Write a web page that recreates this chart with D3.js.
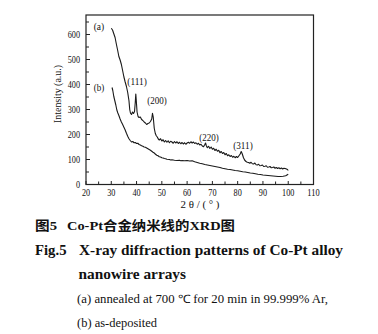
<!DOCTYPE html>
<html><head><meta charset="utf-8">
<script src="https://cdn.jsdelivr.net/npm/d3@7"></script>
<style>
html,body{margin:0;padding:0;background:#fff;}
svg{display:block;}
text{font-family:"Liberation Serif","Times New Roman",serif;fill:#111;}
</style></head>
<body>
<svg id="chart" width="378" height="334"></svg>
<script>
// ---- data ----
const thetaA = [30,30.5,31,31.5,32,32.5,33,33.5,34,34.5,35,35.5,36,36.5,37,37.3,37.6,38,38.4,38.8,39.2,39.5,39.7,39.9,40.2,40.6,41,41.5,42,42.5,43,43.5,44,44.5,45,45.5,46,46.3,46.6,47,47.4,47.8,48.2,48.6,49,49.5,50,50.5,51,51.5,52,52.5,53,53.5,54,54.5,55,55.5,56,56.5,57,57.5,58,58.5,59,59.5,60,60.5,61,61.5,62,62.5,63,63.5,64,64.5,65,65.5,66,66.5,67,67.3,67.6,68,68.5,69,69.5,70,70.5,71,71.5,72,72.5,73,73.5,74,74.5,75,75.5,76,76.5,77,77.5,78,78.5,79,79.5,80,80.5,81,81.4,81.8,82.3,82.8,83.3,83.8,84.3,84.8,85.3,85.8,86.3,86.8,87.3,87.8,88.3,88.8,89.3,89.8,90.3,90.8,91.3,91.8,92.3,92.8,93.3,93.8,94.3,94.8,95.3,95.8,96.3,96.8,97.3,97.8,98.3,98.8,99.3,99.7,100];
const intA   = [625,618,603,588,562,538,512,498,480,455,430,410,392,368,335,300,285,280,290,284,292,330,362,335,290,272,268,270,260,256,250,246,240,244,246,252,262,285,270,225,205,195,190,182,178,183,174,179,170,176,169,175,167,173,170,165,172,166,171,164,169,163,168,162,167,161,166,169,165,171,166,170,164,167,161,165,158,161,154,151,160,166,155,147,153,144,150,141,145,136,141,133,137,127,132,124,128,119,124,115,119,112,116,109,113,107,112,108,115,122,132,123,107,97,92,89,88,85,89,83,82,86,79,78,81,75,76,78,72,73,75,69,70,72,67,68,70,65,68,64,67,63,66,62,65,64,62,60,56];
const thetaB = [30.3,30.6,31,31.4,31.8,32.2,32.6,33,33.5,34,34.5,35,35.5,36,36.5,37,37.5,38,38.5,39,39.5,40,40.5,41,41.5,42,42.5,43,43.5,44,44.5,45,45.5,46,46.5,47,47.5,48,48.5,49,49.5,50,50.5,51,51.5,52,53,53.5,54,55,56,57,57.5,58,59,60,61,62,63,64,65,66,67,68,69,70,71,72,73,74,75,76,77,78,79,80,81,82,83,84,85,86,87,88,89,90,91,92,93,94,95,96,97,98,99,99.5,100];
const intB   = [388,376,352,335,318,298,286,276,262,250,240,229,218,205,193,183,176,170,172,167,168,164,165,160,158,155,153,150,149,146,143,140,137,133,129,126,121,117,115,111,110,107,106,104,103,101,100,98,99,97,96,97,95,96,95,96,94,95,91,88,85,83,80,78,76,74,72,70,68,65,63,61,60,58,56,55,53,51,50,48,46,45,43,41,40,38,37,36,35,34,33,32,32,33,35,38,41];
const xTicks = [20,30,40,50,60,70,80,90,100,110];
const xMinorTicks = [25,35,45,55,65,75,85,95,105];
const yTicks = [0,100,200,300,400,500,600];
const yMinorTicks = [50,150,250,350,450,550,650];
const curveLabels = ["(a)","(b)"];
const curveLabelX = [25.1,25.1];
const curveLabelY = [634,390];
const peakLabels = ["(111)","(200)","(220)","(311)"];
const peakLabelX = [40.2,48.1,68.7,82.1];
const peakLabelY = [414,338,190,158];
const xTitle = "2 θ / ( ° )";
const yTitle = "Intensity (a.u.)";

// ---- layout ----
const SERIF = "'Liberation Serif','Times New Roman',serif";
const L=86, R=313.5, T=15, B=184.5;
const svg = d3.select("#chart");
const x = d3.scaleLinear().domain([20,110]).range([L,R]);
const y = d3.scaleLinear().domain([0,678]).range([B,T]);

// frame
svg.append("rect").attr("x",L).attr("y",T).attr("width",R-L).attr("height",B-T)
  .attr("fill","none").attr("stroke","#222").attr("stroke-width",1.2);

// x ticks (inward)
svg.append("g").selectAll("line").data(xTicks.concat(xMinorTicks)).join("line")
  .attr("x1",d=>x(d)).attr("x2",d=>x(d)).attr("y1",B).attr("y2",d=>B-(xTicks.includes(d)?3.5:3))
  .attr("stroke","#222").attr("stroke-width",1);
svg.append("g").selectAll("text").data(xTicks).join("text")
  .attr("x",d=>x(d)).attr("y",195.5).attr("text-anchor","middle").style("font-family",SERIF)
  .attr("font-size",10).attr("textLength",d=>String(d).length*4.1).attr("lengthAdjust","spacingAndGlyphs")
  .text(d=>d);
// y ticks (inward)
svg.append("g").selectAll("line").data(yTicks.concat(yMinorTicks)).join("line")
  .attr("x1",L).attr("x2",d=>L+(yTicks.includes(d)?4:3)).attr("y1",d=>y(d)).attr("y2",d=>y(d))
  .attr("stroke","#222").attr("stroke-width",1);
svg.append("g").selectAll("text").data(yTicks).join("text")
  .attr("x",80).attr("y",d=>y(d)+3.3).attr("text-anchor","end").style("font-family",SERIF)
  .attr("font-size",10).attr("textLength",d=>String(d).length*4.1).attr("lengthAdjust","spacingAndGlyphs")
  .text(d=>d);

// axis titles
svg.append("text").attr("x",200).attr("y",207.5).attr("text-anchor","middle").style("font-family",SERIF)
  .attr("font-size",10).attr("textLength",39).attr("lengthAdjust","spacingAndGlyphs").text(xTitle);
svg.append("text").attr("transform","translate(60.5,94) rotate(-90)").attr("text-anchor","middle").style("font-family",SERIF)
  .attr("font-size",10).attr("textLength",58).attr("lengthAdjust","spacingAndGlyphs").text(yTitle);

// curves
const line = d3.line().x(d=>x(d[0])).y(d=>y(d[1]));
svg.append("path").datum(d3.zip(thetaA,intA)).attr("d",line)
  .attr("fill","none").attr("stroke","#1a1a1a").attr("stroke-width",1.1).attr("stroke-linejoin","round");
svg.append("path").datum(d3.zip(thetaB,intB)).attr("d",line)
  .attr("fill","none").attr("stroke","#1a1a1a").attr("stroke-width",1.1).attr("stroke-linejoin","round");

// labels
svg.append("g").selectAll("text").data(curveLabels).join("text")
  .attr("x",(d,i)=>x(curveLabelX[i])).attr("y",(d,i)=>y(curveLabelY[i])+3.5).attr("text-anchor","middle").style("font-family",SERIF)
  .attr("font-size",10).attr("textLength",10.5).attr("lengthAdjust","spacingAndGlyphs").text(d=>d);
svg.append("g").selectAll("text").data(peakLabels).join("text")
  .attr("x",(d,i)=>x(peakLabelX[i])).attr("y",(d,i)=>y(peakLabelY[i])+3.5).attr("text-anchor","middle").style("font-family",SERIF)
  .attr("font-size",10).attr("textLength",19.5).attr("lengthAdjust","spacingAndGlyphs").text(d=>d);

// caption
const CJK = "'Liberation Serif','Noto Sans CJK SC',serif";
const cap = svg.append("g");
cap.append("text").attr("x",35).attr("y",229.5).attr("font-size",13).attr("font-weight","bold")
  .attr("textLength",22).attr("lengthAdjust","spacingAndGlyphs")
  .style("font-family",CJK).text("图5");
cap.append("text").attr("x",67).attr("y",229.5).attr("font-size",13).attr("font-weight","bold")
  .attr("textLength",168).attr("lengthAdjust","spacingAndGlyphs")
  .style("font-family",CJK).text("Co-Pt合金纳米线的XRD图");
cap.append("text").attr("x",35).attr("y",254.5).attr("font-size",15).attr("font-weight","bold").style("font-family",SERIF)
  .attr("textLength",31.5).attr("lengthAdjust","spacingAndGlyphs").text("Fig.5");
cap.append("text").attr("x",79).attr("y",254.5).attr("font-size",15).attr("font-weight","bold").style("font-family",SERIF)
  .attr("textLength",264).attr("lengthAdjust","spacingAndGlyphs").text("X-ray diffraction patterns of Co-Pt alloy");
cap.append("text").attr("x",78.5).attr("y",279).attr("font-size",15).attr("font-weight","bold").style("font-family",SERIF)
  .attr("textLength",107.5).attr("lengthAdjust","spacingAndGlyphs").text("nanowire arrays");
cap.append("text").attr("x",77).attr("y",302.5).attr("font-size",11.5).style("font-family",SERIF).attr("fill","#333")
  .attr("textLength",251).attr("lengthAdjust","spacingAndGlyphs").text("(a) annealed at 700 ℃ for 20 min in 99.999% Ar,");
cap.append("text").attr("x",77).attr("y",327).attr("font-size",11.5).style("font-family",SERIF).attr("fill","#333")
  .attr("textLength",80).attr("lengthAdjust","spacingAndGlyphs").text("(b) as-deposited");
</script>
</body></html>
